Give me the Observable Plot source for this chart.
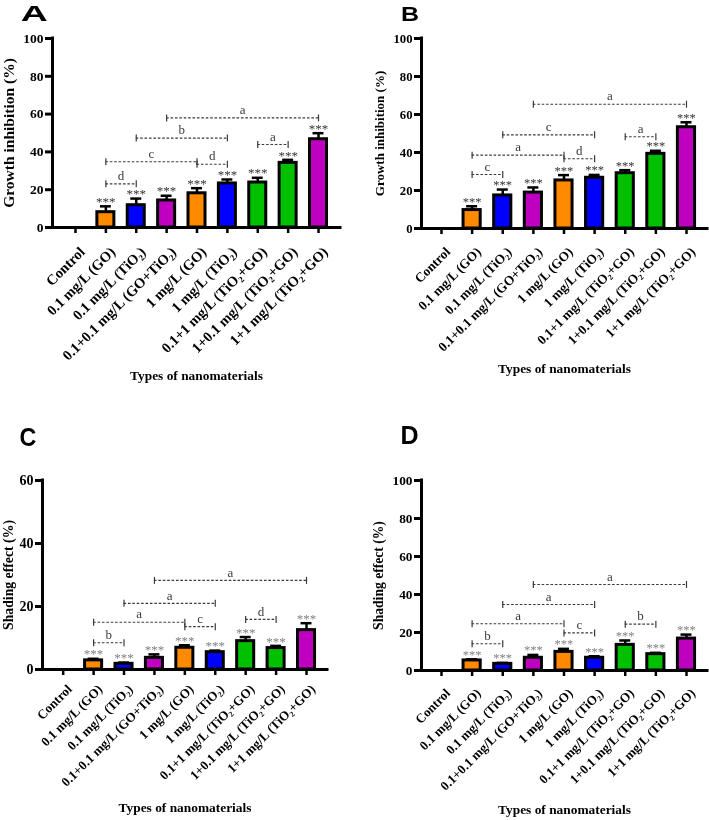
<!DOCTYPE html>
<html><head><meta charset="utf-8">
<script src="https://cdn.jsdelivr.net/npm/d3@7"></script>
<script src="https://cdn.jsdelivr.net/npm/@observablehq/plot@0.6"></script>
<style>
body{margin:0;background:#fff;}
#wrap{position:relative;width:709px;height:820px;background:#fff;overflow:hidden;}
.panel{position:absolute;will-change:transform;}
#letters{position:absolute;left:0;top:0;will-change:transform;}
</style></head><body><div id="wrap"></div>
<script>
// ---------- data ----------
const categories = ["Control", "0.1 mg/L (GO)", "0.1 mg/L (TiO₂)", "0.1+0.1 mg/L (GO+TiO₂)", "1 mg/L (GO)", "1 mg/L (TiO₂)", "0.1+1 mg/L (TiO₂+GO)", "1+0.1 mg/L (TiO₂+GO)", "1+1 mg/L (TiO₂+GO)"];
const barColors = ["none", "#ff8a00", "#0000ff", "#c000c0", "#ff8a00", "#0000ff", "#00c000", "#00c000", "#c000c0"];

const meanA = [0, 8.1, 11.8, 14.3, 18.1, 23.3, 23.8, 34.2, 46.7];
const errA  = [0, 3.1, 3.5, 2.5, 2.7, 2.1, 2.5, 1.6, 3.2];
const meanB = [0, 9.7, 17.4, 18.9, 25.3, 26.7, 29.1, 39.3, 53.3];
const errB  = [0, 2.0, 3.1, 2.7, 2.8, 1.5, 1.6, 1.6, 2.6];
const meanC = [0, 2.9, 1.8, 3.7, 6.9, 5.5, 9.0, 6.8, 12.5];
const errC  = [0, 0.5, 0.4, 1.1, 0.8, 0.5, 1.3, 0.7, 2.2];
const meanD = [0, 5.3, 3.5, 6.7, 9.8, 6.7, 13.5, 8.6, 16.8];
const errD  = [0, 0.6, 0.5, 1.5, 1.6, 0.8, 2.3, 0.7, 2.1];

const bracketsA = [
  {from: 3, to: 8, y: 58.0, label: "a"}, {from: 2, to: 5, y: 47.3, label: "b"},
  {from: 1, to: 4, y: 34.8, label: "c"}, {from: 4, to: 5, y: 33.5, label: "d"},
  {from: 1, to: 2, y: 23.1, label: "d"}, {from: 6, to: 7, y: 43.9, label: "a"}];
const bracketsB = [
  {from: 3, to: 8, y: 65.4, label: "a"}, {from: 2, to: 5, y: 49.3, label: "c"},
  {from: 1, to: 4, y: 38.6, label: "a"}, {from: 4, to: 5, y: 36.7, label: "d"},
  {from: 1, to: 2, y: 28.4, label: "c"}, {from: 6, to: 7, y: 48.3, label: "a"}];
const bracketsC = [
  {from: 3, to: 8, y: 28.3, label: "a"}, {from: 2, to: 5, y: 21.0, label: "a"},
  {from: 1, to: 4, y: 15.0, label: "a"}, {from: 4, to: 5, y: 13.6, label: "c"},
  {from: 1, to: 2, y: 8.5, label: "b"}, {from: 6, to: 7, y: 15.9, label: "d"}];
const bracketsD = [
  {from: 3, to: 8, y: 45.3, label: "a"}, {from: 2, to: 5, y: 34.7, label: "a"},
  {from: 1, to: 4, y: 24.6, label: "a"}, {from: 4, to: 5, y: 19.8, label: "c"},
  {from: 1, to: 2, y: 14.1, label: "b"}, {from: 6, to: 7, y: 24.4, label: "b"}];

const ticksGrowth = [0, 20, 40, 60, 80, 100];
const ticksShadeC = [0, 20, 40, 60];
const ticksShadeD = [0, 20, 40, 60, 80, 100];
const yTitleGrowth = "Growth inhibition (%)";
const yTitleShade = "Shading effect (%)";
const xTitle = "Types of nanomaterials";
const panelLetters = ["A", "B", "C", "D"];

// ---------- drawing ----------
const serif = "'Liberation Serif','Times New Roman',serif";
const barHalf = 0.28, capHalf = 0.18;
const vbar = {draw(ctx, size) { const r = Math.sqrt(size / Math.PI); ctx.moveTo(0, -r); ctx.lineTo(0, r); }};
const wrap = document.getElementById("wrap");

function makePanel(cfg) {
  const rows = categories.map((c, i) => ({i, v: cfg.mean[i], e: cfg.err[i], top: cfg.mean[i] + cfg.err[i], color: barColors[i]}))
    .filter(d => d.v > 0);
  const catRows = categories.map((c, i) => ({i, c}));
  const ends = cfg.brackets.flatMap(b => [{x: b.from, y: b.y}, {x: b.to, y: b.y}]);
  const svg = Plot.plot({
    width: cfg.width, height: cfg.height,
    marginLeft: cfg.mL, marginRight: cfg.mR, marginTop: cfg.mT, marginBottom: cfg.mB,
    x: {type: "linear", domain: cfg.xDomain},
    y: {domain: [0, cfg.yMax]},
    color: {type: "identity"},
    style: {fontFamily: serif, fontWeight: "bold", background: "transparent", overflow: "visible"},
    marks: [
      Plot.ruleY(cfg.brackets, {y: "y", x1: "from", x2: "to", stroke: "#3a3a3a", strokeWidth: 1.1, strokeDasharray: "2.6,1.8"}),
      Plot.dot(ends, {x: "x", y: "y", r: 3.5, symbol: vbar, stroke: "#3a3a3a", strokeWidth: 1.2, fill: "none"}),
      Plot.text(cfg.brackets, {x: d => (d.from + d.to) / 2, y: "y", text: "label", dy: -8, fontWeight: "normal", fontSize: 13, fill: "#3a3a3a"}),
      Plot.ruleX(rows, {x: "i", y1: "v", y2: "top", strokeWidth: 2.5}),
      Plot.ruleY(rows, {y: "top", x1: d => d.i - capHalf, x2: d => d.i + capHalf, strokeWidth: 2.5}),
      Plot.rectY(rows, {x1: d => d.i - barHalf, x2: d => d.i + barHalf, y1: d => 0, y2: "v", fill: "color", stroke: "#000", strokeWidth: 3}),
      Plot.text(rows, {x: "i", y: "top", text: d => "***", dy: -4.5, fontSize: cfg.starSize, fill: cfg.starColor, fontWeight: "normal"}),
      Plot.ruleY([0], {strokeWidth: 3, strokeLinecap: "square"}),
      Plot.ruleX([cfg.xDomain[0]], {strokeWidth: 3, strokeLinecap: "square"}),
      Plot.axisY({ticks: cfg.yTicks, tickSize: 7, tickPadding: 2, strokeWidth: 3, fontSize: cfg.yTickSize, fontWeight: "bold", label: null}),
      Plot.axisX({ticks: d3.range(categories.length), tickFormat: () => "", tickSize: 6, strokeWidth: 2.5, label: null}),
      Plot.text(catRows, {x: "i", y: d => 0, text: "c", rotate: -45, textAnchor: "end", lineAnchor: "top", dx: cfg.catDx, dy: cfg.catDy, fontSize: cfg.xTickSize}),
      Plot.text([cfg.yLabel], {text: d => d, frameAnchor: "left", textAnchor: "middle", lineAnchor: "middle", rotate: -90, dx: cfg.yLabelDx, fontSize: cfg.yLabelSize}),
      Plot.text([xTitle], {text: d => d, frameAnchor: "bottom", textAnchor: "middle", lineAnchor: "middle", dy: cfg.xTitleDy, fontSize: 13.4})
    ]
  });
  const div = document.createElement("div");
  div.className = "panel";
  div.style.left = cfg.left + "px"; div.style.top = cfg.top + "px";
  div.style.width = cfg.width + "px"; div.style.height = cfg.height + "px";
  div.appendChild(svg);
  wrap.appendChild(div);
}

makePanel({mean: meanA, err: errA, brackets: bracketsA, left: 0, top: 0, width: 354, height: 400,
  mL: 52, mR: 14, mT: 38, mB: 173, xDomain: [-0.757, 8.724], yMax: 100, yTicks: ticksGrowth,
  yTickSize: 13.5, xTickSize: 14.5, catDx: 3, catDy: 18, yLabel: yTitleGrowth, yLabelSize: 15.5, yLabelDx: -43,
  xTitleDy: 148.7, starColor: "#333", starSize: 13});
makePanel({mean: meanB, err: errB, brackets: bracketsB, left: 354, top: 0, width: 355, height: 400,
  mL: 67, mR: 2, mT: 38, mB: 172, xDomain: [-0.653, 8.686], yMax: 100, yTicks: ticksGrowth,
  yTickSize: 12.7, xTickSize: 13.3, catDx: 3, catDy: 17.5, yLabel: yTitleGrowth, yLabelSize: 13, yLabelDx: -42,
  xTitleDy: 140.4, starColor: "#333", starSize: 12.5});
makePanel({mean: meanC, err: errC, brackets: bracketsC, left: 0, top: 410, width: 354, height: 410,
  mL: 42, mR: 27, mT: 70, mB: 151, xDomain: [-0.68, 8.69], yMax: 60, yTicks: ticksShadeC,
  yTickSize: 14, xTickSize: 13, catDx: 3, catDy: 14, yLabel: yTitleShade, yLabelSize: 13.75, yLabelDx: -33.7,
  xTitleDy: 138.7, starColor: "#808080", starSize: 13});
makePanel({mean: meanD, err: errD, brackets: bracketsD, left: 354, top: 410, width: 355, height: 410,
  mL: 67, mR: 2, mT: 70, mB: 150, xDomain: [-0.653, 8.686], yMax: 100, yTicks: ticksShadeD,
  yTickSize: 13.3, xTickSize: 13, catDx: 3, catDy: 17, yLabel: yTitleShade, yLabelSize: 13.6, yLabelDx: -43,
  xTitleDy: 139.7, starColor: "#808080", starSize: 12.5});

// panel letters
const letterSpec = [
  {x: 20.7, y: 21, size: 22, sx: 1.7},
  {x: 401, y: 21, size: 20, sx: 1.25},
  {x: 19.5, y: 446, size: 25, sx: 0.93},
  {x: 400.4, y: 444.3, size: 25, sx: 1.0}];
const ov = d3.select(wrap).append("svg").attr("id", "letters").attr("width", 709).attr("height", 820);
ov.selectAll("text").data(panelLetters).join("text")
  .attr("transform", (d, i) => `translate(${letterSpec[i].x},${letterSpec[i].y}) scale(${letterSpec[i].sx},1)`)
  .attr("font-family", "'Liberation Sans',Arial,sans-serif").attr("font-weight", "bold")
  .attr("font-size", (d, i) => letterSpec[i].size).attr("fill", "#000")
  .text(d => d);
</script></body></html>
